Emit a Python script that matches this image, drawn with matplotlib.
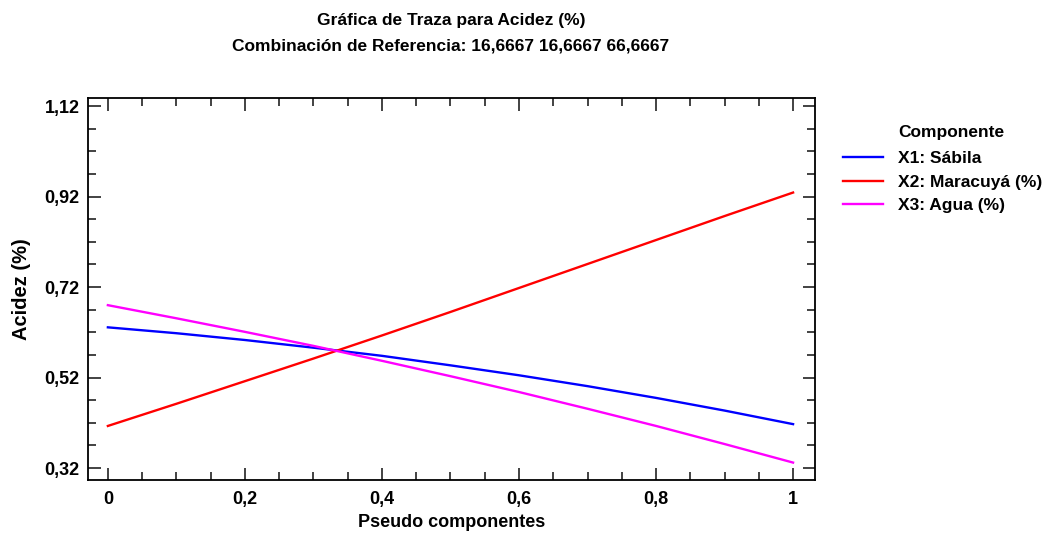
import matplotlib
matplotlib.use("Agg")
import matplotlib.pyplot as plt
from matplotlib.ticker import MultipleLocator, FuncFormatter

x = [0.0, 0.1, 0.2, 0.3, 0.4, 0.5, 0.6, 0.7, 0.8, 0.9, 1.0]
sabila = [0.631, 0.618, 0.603, 0.586, 0.568, 0.547, 0.525, 0.501, 0.475, 0.447, 0.417]
maracuya = [0.413, 0.462, 0.512, 0.562, 0.613, 0.665, 0.718, 0.771, 0.824, 0.877, 0.929]
agua = [0.680, 0.651, 0.621, 0.590, 0.557, 0.523, 0.488, 0.451, 0.413, 0.373, 0.332]

labels = ["X1: Sábila", "X2: Maracuyá (%)", "X3: Agua (%)"]
colors = ["#0000ff", "#ff0000", "#ff00ff"]

FN = ["Liberation Sans", "DejaVu Sans"]
W, H = 1044, 535

fig = plt.figure(figsize=(W/100, H/100), dpi=100)
ax = fig.add_axes([88/W, 55/H, (815-88)/W, (480-98)/H])

for ys, lab, c in zip([sabila, maracuya, agua], labels, colors):
    ax.plot(x, ys, color=c, lw=1.7, label=lab)

ax.set_xlim(-0.029, 1.032)
ax.set_ylim(0.2935, 1.138)
ax.xaxis.set_major_locator(MultipleLocator(0.2))
ax.xaxis.set_minor_locator(MultipleLocator(0.05))
ax.set_yticks([0.32, 0.52, 0.72, 0.92, 1.12])
ax.set_yticks([0.37, 0.42, 0.47, 0.57, 0.62, 0.67, 0.77, 0.82, 0.87, 0.97, 1.02, 1.07], minor=True)

def xfmt(v, pos):
    s = f"{v:.1f}".rstrip("0").rstrip(".")
    return s.replace(".", ",")

ax.xaxis.set_major_formatter(FuncFormatter(xfmt))
ax.yaxis.set_major_formatter(FuncFormatter(lambda v, p: f"{v:.2f}".replace(".", ",")))

ax.tick_params(which="both", direction="in", top=True, right=True, width=1.2, color="#222222")
ax.tick_params(which="major", length=9)
ax.tick_params(which="minor", length=5.5)
ax.tick_params(axis="x", which="major", pad=8)
ax.tick_params(axis="y", which="major", pad=6)
for lbl in ax.get_xticklabels() + ax.get_yticklabels():
    lbl.set_family(FN)
    lbl.set_fontweight("bold")
    lbl.set_fontsize(13)

for sp in ax.spines.values():
    sp.set_linewidth(1.3)

ax.set_xlabel("Pseudo componentes", family=FN, fontweight="bold", fontsize=13, labelpad=4)
ax.set_ylabel("Acidez (%)", family=FN, fontweight="bold", fontsize=14.5, labelpad=10)

fig.text(451/W, 1 - 20/H, "Gráfica de Traza para Acidez (%)", family=FN, fontweight="bold",
         fontsize=12.5, ha="center", va="center")
fig.text(451/W, 1 - 46/H, "Combinación de Referencia: 16,6667 16,6667 66,6667", family=FN,
         fontweight="bold", fontsize=12.5, ha="center", va="center")

leg = ax.legend(loc="upper left", bbox_to_anchor=(843/W, 1 - 151/H), bbox_transform=fig.transFigure,
                frameon=False, prop={"family": FN, "weight": "bold", "size": 12.5},
                handlelength=2.3, handletextpad=0.85, labelspacing=0.48, borderaxespad=0, borderpad=0)
fig.text(898/W, 1 - 133/H, "Componente", family=FN, fontweight="bold", fontsize=12.5,
         ha="left", va="center")

fig.savefig("out.png", dpi=100)
